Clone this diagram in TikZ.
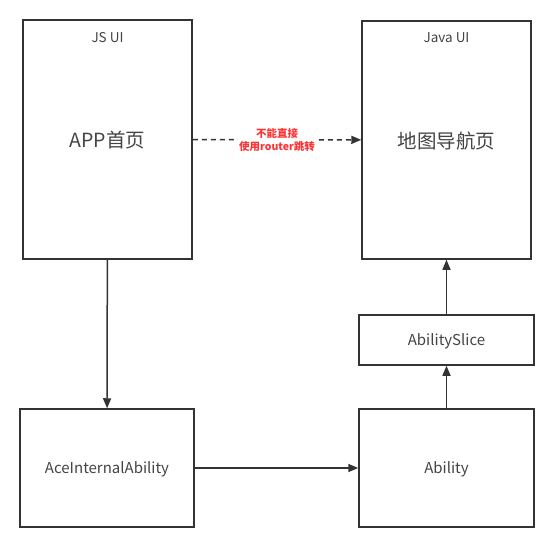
\documentclass[tikz,border=0pt]{standalone}
\usepackage{fontspec}
\setmainfont{Noto Sans CJK SC}
\usepackage{xcolor}
\usetikzlibrary{arrows.meta}
\definecolor{linegray}{HTML}{333333}
\definecolor{textgray}{HTML}{444444}
\definecolor{notered}{HTML}{FF3333}

\begin{document}
\begin{tikzpicture}[x=1pt, y=-1pt,
    box/.style={draw=linegray, line width=1.5pt, inner sep=0pt, text=textgray,
                text depth=0pt, font=\fontsize{15}{17}\selectfont},
    flow/.style={-{Triangle[length=10pt, width=8pt]}, draw=linegray, line width=1.5pt}]
      \useasboundingbox (0, 0) rectangle (554, 548);
      % pages
      \node[box, minimum width=169, minimum height=239,
            font=\fontsize{19.5}{22}\selectfont] (app) at (107.5, 139.5) {APP首页};
      \node[box, minimum width=169, minimum height=238,
            font=\fontsize{19.5}{22}\selectfont] (map) at (446.5, 140)   {地图导航页};
      \node[text=textgray, font=\fontsize{13.5}{15}\selectfont] (jsui)   at (107.5, 38) {JS UI};
      \node[text=textgray, font=\fontsize{13.5}{15}\selectfont] (javaui) at (446.5, 38) {Java UI};
      % abilities
      \node[box, minimum width=175, minimum height=50]  (slice)   at (446.5, 340) {AbilitySlice};
      \node[box, minimum width=175, minimum height=118] (ability) at (446.5, 468) {Ability};
      \node[box, minimum width=174, minimum height=118] (ace)     at (107, 468)   {AceInternalAbility};
      % connections
      \draw[flow, dash pattern=on 5pt off 4pt] (app) -- (map)
          node[midway, fill=white, inner sep=1pt, align=center, text=notered,
               font=\fontsize{10.5}{13}\selectfont\bfseries] (note) {不能直接\\使用router跳转};
      \draw[flow] (app) -- (ace);
      \draw[flow] (ace) -- (ability);
      \draw[flow] (ability) -- (slice);
      \draw[flow] (slice) -- (map);
\end{tikzpicture}
\end{document}
